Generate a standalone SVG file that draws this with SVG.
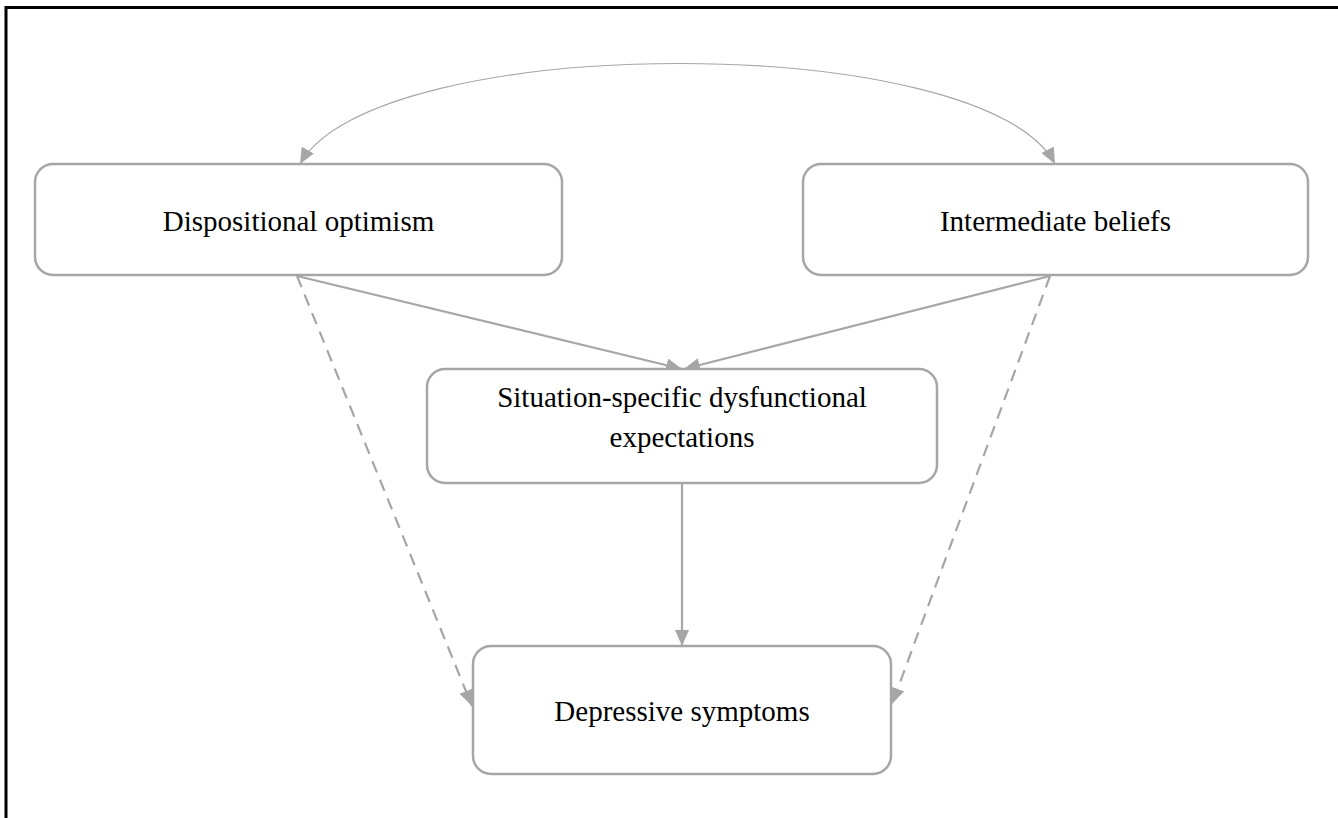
<svg xmlns="http://www.w3.org/2000/svg" width="1338" height="818" viewBox="0 0 1338 818">
<defs>
<style>
.node rect{fill:#ffffff;stroke:#a6a6a6;stroke-width:2.5}
.node text{font-family:"Liberation Serif","Times New Roman",serif;font-size:29px;fill:#000;text-anchor:middle}
.edge{fill:none;stroke:#a6a6a6;stroke-width:2.2}
.dash{stroke-dasharray:12,8}
.thin{stroke-width:1.2}
</style>
<marker id="ah" viewBox="0 0 16 14" markerWidth="16" markerHeight="14" refX="16" refY="7" orient="auto-start-reverse" markerUnits="userSpaceOnUse">
<path d="M0,0 L16,7 L0,14 z" fill="#a6a6a6"/>
</marker>
</defs>
<rect x="0" y="0" width="1338" height="818" fill="#ffffff"/>
<path d="M6,818 V7.5 H1338" fill="none" stroke="#000" stroke-width="3"/>
<g id="connectors">
<path class="edge thin" d="M300,164 C375,30 985,30 1055,164" marker-start="url(#ah)" marker-end="url(#ah)"/>
<line class="edge" x1="297" y1="276" x2="682" y2="369" marker-end="url(#ah)"/>
<line class="edge" x1="1050" y1="276" x2="684" y2="369" marker-end="url(#ah)"/>
<line class="edge" x1="682" y1="484" x2="682" y2="646" marker-end="url(#ah)"/>
<line class="edge dash" x1="297" y1="276" x2="472" y2="706" marker-end="url(#ah)"/>
<line class="edge dash" x1="1050" y1="276" x2="892" y2="704" marker-end="url(#ah)"/>
</g>
<g id="node-dispositional" class="node">
<rect x="35" y="164" width="527" height="111" rx="18"/>
<text x="298.5" y="231">Dispositional optimism</text>
</g>
<g id="node-intermediate" class="node">
<rect x="803" y="164" width="505" height="111" rx="18"/>
<text x="1055.5" y="231">Intermediate beliefs</text>
</g>
<g id="node-situation" class="node">
<rect x="427" y="369" width="510" height="114" rx="18"/>
<text x="682" y="407">Situation-specific dysfunctional</text>
<text x="682" y="447">expectations</text>
</g>
<g id="node-depressive" class="node">
<rect x="473" y="646" width="418" height="128" rx="18"/>
<text x="682" y="721">Depressive symptoms</text>
</g>
</svg>
